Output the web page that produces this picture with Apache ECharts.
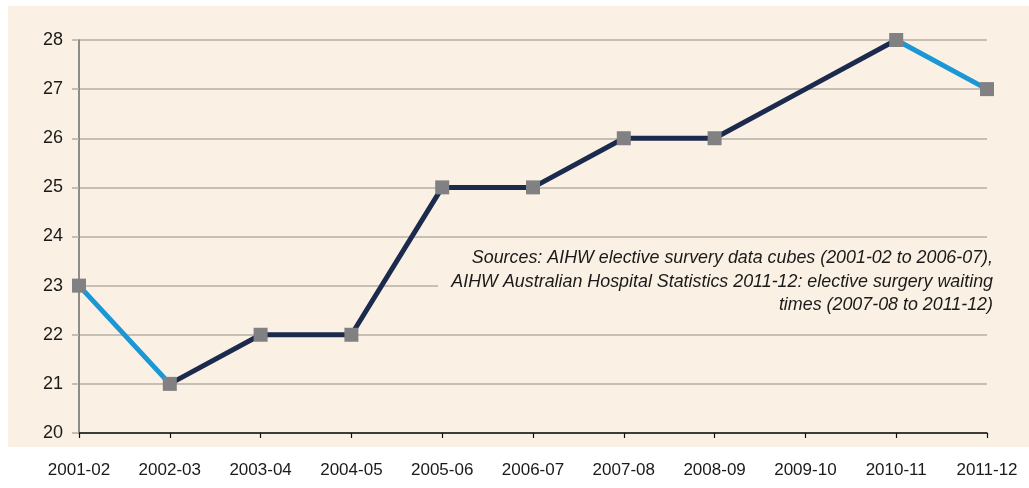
<!DOCTYPE html>
<html>
<head>
<meta charset="utf-8">
<script src="https://cdn.jsdelivr.net/npm/echarts@6/dist/echarts.min.js"></script>
<style>
  html, body { margin: 0; padding: 0; background: #ffffff; }
  #chart { width: 1029px; height: 488px; }
</style>
</head>
<body>
<div id="chart"></div>
<script>
let chart = echarts.init(document.getElementById('chart'));

// 年度
let years = ['2001-02', '2002-03', '2003-04', '2004-05', '2005-06', '2006-07', '2007-08', '2008-09', '2009-10', '2010-11', '2011-12'];
// 等待天数
let waiting = [23, 21, 22, 22, 25, 25, 26, 26, 27, 28, 27];
// 浅蓝色线段所在的点（首尾两段）
let blue_index = [0, 1, 9, 10];
// 深色线段所在的点
let dark_index = [1, 2, 3, 4, 5, 6, 7, 8, 9];
// 不画方块的点
let no_marker = [8];

let source_lines = [
    'Sources: AIHW elective survery data cubes (2001-02 to 2006-07),',
    'AIHW Australian Hospital Statistics 2011-12: elective surgery waiting',
    'times (2007-08 to 2011-12)'
];

function pick(indexes) {
    return waiting.map((v, i) => indexes.indexOf(i) >= 0 ? v : null);
}

let blue_data = pick(blue_index);
let dark_data = pick(dark_index);
let marker_data = waiting.map((v, i) => no_marker.indexOf(i) >= 0 ? {value: v, symbol: 'none'} : v);

let font = 'Liberation Sans, Arial, sans-serif';
let beige = '#faf1e4';

// 来源文字，每行右对齐
let source_graphics = source_lines.map((line, i) => ({
    type: 'text',
    z: 6,
    silent: true,
    x: 993,
    y: 258 + i * 23.5,
    scaleX: 0.94,
    style: {
        x: 0,
        y: 0,
        text: line,
        font: 'italic 19px "Liberation Sans", Arial, sans-serif',
        fill: '#1a1a1a',
        align: 'right',
        verticalAlign: 'middle'
    }
}));

let option = {
    backgroundColor: '#ffffff',
    animation: false,
    grid: {
        left: 79,
        right: 42,
        top: 40,
        bottom: 55
    },
    graphic: [
        {
            type: 'rect',
            z: -10,
            silent: true,
            shape: {x: 8, y: 6, width: 1021, height: 441},
            style: {fill: beige}
        },
        {
            type: 'rect',
            z: 1,
            silent: true,
            shape: {x: 438, y: 245, width: 557, height: 72},
            style: {fill: beige}
        }
    ].concat(source_graphics),
    xAxis: {
        type: 'category',
        data: years,
        boundaryGap: false,
        axisLine: {lineStyle: {color: '#111111', width: 1.5}},
        axisTick: {show: true, length: 5, alignWithLabel: true, lineStyle: {color: '#111111', width: 1.2}},
        axisLabel: {color: '#1a1a1a', fontSize: 17, fontFamily: font, margin: 29}
    },
    yAxis: {
        type: 'value',
        min: 20,
        max: 28,
        interval: 1,
        axisLine: {show: true, lineStyle: {color: '#6a6a6a', width: 1.5}},
        axisTick: {show: true, length: 7, lineStyle: {color: '#b3aea6', width: 1.5}},
        axisLabel: {color: '#1a1a1a', fontSize: 18, fontFamily: font, margin: 16},
        splitLine: {lineStyle: {color: '#b3aea6', width: 1.5}}
    },
    series: [
        {
            name: 'first and last',
            type: 'line',
            data: blue_data,
            connectNulls: false,
            showSymbol: false,
            lineStyle: {color: '#1b97d5', width: 5},
            z: 2
        },
        {
            name: 'middle',
            type: 'line',
            data: dark_data,
            connectNulls: false,
            showSymbol: false,
            lineStyle: {color: '#1c2a4d', width: 5},
            z: 3
        },
        {
            name: 'markers',
            type: 'line',
            data: marker_data,
            symbol: 'rect',
            symbolSize: 14,
            showAllSymbol: true,
            lineStyle: {width: 0, opacity: 0},
            itemStyle: {color: '#818183'},
            z: 4
        }
    ]
};

chart.setOption(option);
</script>
</body>
</html>
